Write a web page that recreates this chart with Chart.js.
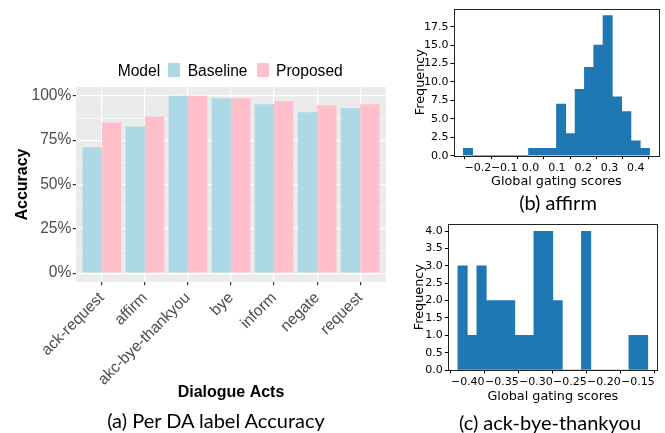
<!DOCTYPE html>
<html>
<head>
<meta charset="utf-8">
<script src="https://cdn.jsdelivr.net/npm/chart.js@4.4.1/dist/chart.umd.min.js"></script>
<style>
  body { margin: 0; width: 665px; height: 433px; background: #fff; position: relative; overflow: hidden; }
  canvas { position: absolute; }
  .cap { position: absolute; font-family: Lato, 'Open Sans', sans-serif; font-size: 20px; color: #000; text-align: center; white-space: nowrap; transform: translate(-50%, -50%); }
  .leg { position: absolute; font-family: 'Liberation Sans', Arial, sans-serif; font-size: 15.6px; color: #000; white-space: nowrap; transform: translateY(-50%); }
  .key { position: absolute; width: 12px; height: 14px; }
</style>
</head>
<body>
<canvas id="accChart" width="400" height="370" style="left:0;top:40px"></canvas>
<canvas id="affirmChart" width="265" height="215" style="left:400px;top:0"></canvas>
<canvas id="abtChart" width="285" height="218" style="left:380px;top:215px"></canvas>
<div id="legend"></div>
<div class="cap" style="left:216px;top:420px">(a) Per DA label Accuracy</div>
<div class="cap" style="left:558px;top:202px">(b) affirm</div>
<div class="cap" style="left:550px;top:422px">(c) ack-bye-thankyou</div>
<script>
// (a) accuracy per dialogue act, in %
const acts        = ['ack-request', 'affirm', 'akc-bye-thankyou', 'bye', 'inform', 'negate', 'request'];
const baselineAcc = [71, 82.7, 100, 98.7, 95.3, 90.7, 93];
const proposedAcc = [85, 88.4, 100, 98.7, 97, 94.7, 95.3];
const seriesNames  = ['Baseline', 'Proposed'];
const seriesColors = ['#ADD8E6', '#FFC0CB'];
const accTicks = [0, 25, 50, 75, 100];
const accMinor = [12.5, 37.5, 62.5, 87.5];

// (b) affirm: histogram bin centres and counts
const affirmBins   = [-0.2379, -0.2025, -0.1671, -0.1317, -0.0963, -0.0609, -0.0255, 0.0099, 0.0453, 0.0807,
                      0.1161, 0.1515, 0.1869, 0.2223, 0.2577, 0.2931, 0.3285, 0.3639, 0.3993, 0.4347];
const affirmCounts = [1, 0, 0, 0, 0, 0, 0, 1, 1, 1, 7, 3, 9, 12, 15, 19, 8, 6, 2, 1];
const affirmTicksX = [-0.2, -0.1, 0, 0.1, 0.2, 0.3, 0.4];
const affirmTicksY = [0, 2.5, 5, 7.5, 10, 12.5, 15, 17.5];

// (c) ack-bye-thankyou
const abtBins   = [-0.4076, -0.3936, -0.3797, -0.3657, -0.3518, -0.3378, -0.3238, -0.3099, -0.2959, -0.2820,
                   -0.2680, -0.2540, -0.2401, -0.2261, -0.2122, -0.1982, -0.1842, -0.1703, -0.1563, -0.1424];
const abtCounts = [3, 1, 3, 2, 2, 2, 1, 1, 4, 4, 2, 0, 0, 4, 0, 0, 0, 0, 1, 1];
const abtTicksX = [-0.40, -0.35, -0.30, -0.25, -0.20, -0.15];
const abtTicksY = [0, 0.5, 1, 1.5, 2, 2.5, 3, 3.5, 4];

const GG_FONT  = "'Liberation Sans', Arial, sans-serif";
const MPL_FONT = "'DejaVu Sans', sans-serif";

// legend (ggplot style, one row with title)
const legEl = document.getElementById('legend');
const legText = ['Model', ...seriesNames];
const legX = [117.7, 187.7, 276];
const keyX = [168.3, 256.7];
legText.forEach((t, i) => {
  const d = document.createElement('div');
  d.className = 'leg';
  d.style.left = legX[i] + 'px';
  d.style.top = '70.7px';
  d.textContent = t;
  legEl.appendChild(d);
});
seriesColors.forEach((c, i) => {
  const k = document.createElement('div');
  k.className = 'key';
  k.style.left = keyX[i] + 'px';
  k.style.top = '63.3px';
  k.style.background = c;
  legEl.appendChild(k);
});

const panelBg = {
  id: 'panelBg',
  beforeDraw(chart) {
    const { ctx, chartArea: a } = chart;
    ctx.save();
    ctx.fillStyle = '#EBEBEB';
    ctx.fillRect(a.left, a.top, a.width, a.height);
    ctx.restore();
  }
};

const frame = {
  id: 'frame',
  afterDraw(chart) {
    const { ctx, chartArea: a } = chart;
    ctx.save();
    ctx.strokeStyle = '#222';
    ctx.lineWidth = 1;
    ctx.strokeRect(Math.round(a.left) + 0.5, Math.round(a.top) + 0.5, Math.round(a.width), Math.round(a.height));
    ctx.restore();
  }
};

const isMajor = c => c.tick && accTicks.includes(c.tick.value);

new Chart(document.getElementById('accChart'), {
  type: 'bar',
  data: {
    labels: acts,
    datasets: [
      { label: seriesNames[0], data: baselineAcc, backgroundColor: seriesColors[0], categoryPercentage: 0.9, barPercentage: 1 },
      { label: seriesNames[1], data: proposedAcc, backgroundColor: seriesColors[1], categoryPercentage: 0.9, barPercentage: 1 },
    ],
  },
  options: {
    responsive: false,
    animation: false,
    layout: { padding: { top: 47, right: 14, left: 0, bottom: 0 } },
    plugins: { legend: { display: false }, tooltip: { enabled: false } },
    scales: {
      x: {
        grid: { offset: false, color: '#fff', lineWidth: 1.2, tickColor: '#333', tickLength: 3.3 },
        border: { display: false },
        ticks: { color: '#4D4D4D', font: { family: GG_FONT, size: 15.6 }, minRotation: 45, maxRotation: 45, padding: 3.5, autoSkip: false },
        title: { display: true, text: 'Dialogue Acts', color: '#000', font: { family: GG_FONT, size: 16, weight: 'bold' }, padding: { top: 0, bottom: 7.4 } },
        // ggplot pads discrete axes by 0.6 of a category on each side
        afterBuildTicks: s => { s._startValue = -0.6; s._valueRange = acts.length - 1 + 1.2; },
        afterFit: s => { s.height = 128; },
      },
      y: {
        min: -5,
        max: 105,
        grid: {
          color: '#fff',
          lineWidth: c => isMajor(c) ? 1.2 : 0.6,
          tickColor: c => isMajor(c) ? '#333' : 'rgba(0,0,0,0)',
          tickLength: 3.3,
        },
        border: { display: false },
        ticks: { color: '#4D4D4D', font: { family: GG_FONT, size: 15.6 }, padding: 1.3, callback: v => accTicks.includes(v) ? v + '%' : '' },
        title: { display: true, text: 'Accuracy', color: '#000', font: { family: GG_FONT, size: 16, weight: 'bold' }, padding: { top: 13.4, bottom: 0 } },
        afterBuildTicks: s => { s.ticks = [...accTicks, ...accMinor].sort((a, b) => a - b).map(v => ({ value: v })); },
        afterFit: s => { s.width = 76; },
      },
    },
  },
  plugins: [panelBg],
});

function fmtNum(v, dec) {
  const t = Math.abs(v).toFixed(dec);
  return v < -1e-9 ? '\u2212' + t : t;
}

function drawHist(id, centers, counts, xTicks, yTicks, xMin, xMax, yMax, xDec, box) {
  new Chart(document.getElementById(id), {
    type: 'bar',
    data: {
      datasets: [{
        data: centers.map((x, i) => ({ x, y: counts[i] })),
        backgroundColor: '#1f77b4',
        barPercentage: 1,
        categoryPercentage: 1,
      }],
    },
    options: {
      responsive: false,
      animation: false,
      layout: { padding: { top: box.top, right: box.right, left: 0, bottom: 0 } },
      plugins: { legend: { display: false }, tooltip: { enabled: false } },
      scales: {
        x: {
          type: 'linear',
          min: xMin,
          max: xMax,
          offset: false,
          grid: { drawOnChartArea: false, tickLength: 3.5, tickColor: '#000' },
          border: { display: false },
          ticks: { color: '#000', font: { family: MPL_FONT, size: 11 }, padding: 2, maxRotation: 0, autoSkip: false, callback: v => fmtNum(v, xDec) },
          title: { display: true, text: 'Global gating scores', color: '#000', font: { family: MPL_FONT, size: 12.8 }, padding: { top: 0, bottom: box.xPad } },
          afterBuildTicks: s => { s.ticks = xTicks.map(v => ({ value: v })); },
          afterFit: s => { s.height = box.xh; },
        },
        y: {
          min: 0,
          max: yMax,
          grid: { drawOnChartArea: false, tickLength: 3.5, tickColor: '#000' },
          border: { display: false },
          ticks: { color: '#000', font: { family: MPL_FONT, size: 11 }, padding: 2, callback: v => fmtNum(v, 1) },
          title: { display: true, text: 'Frequency', color: '#000', font: { family: MPL_FONT, size: 12.8 }, padding: { top: box.yPad, bottom: 0 } },
          afterBuildTicks: s => { s.ticks = yTicks.map(v => ({ value: v })); },
          afterFit: s => { s.width = box.yw; },
        },
      },
    },
    plugins: [frame],
  });
}

drawHist('affirmChart', affirmBins, affirmCounts, affirmTicksX, affirmTicksY, -0.291, 0.487, 19.95, 1,
  { top: 4, right: 6.3, yw: 54, xh: 59.3, yPad: 13, xPad: 25.6 });
drawHist('abtChart', abtBins, abtCounts, abtTicksX, abtTicksY, -0.4286, -0.1215, 4.2, 2,
  { top: 9.3, right: 7.7, yw: 68.3, xh: 63, yPad: 31.6, xPad: 28.6 });
</script>
</body>
</html>
